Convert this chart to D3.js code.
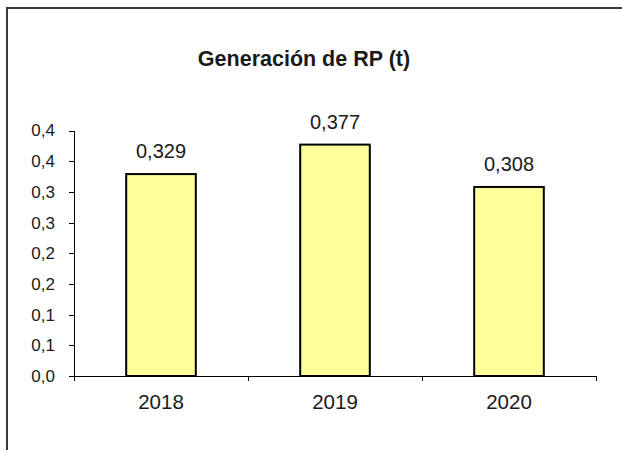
<!DOCTYPE html>
<html>
<head>
<meta charset="utf-8">
<script src="https://cdn.jsdelivr.net/npm/d3@7"></script>
<style>
	body { margin: 0; background: #fff; }
	text { font-family: "Liberation Sans", Arial, sans-serif; fill: #1a1a1a; }
	.axis path, .axis line { stroke: #000; shape-rendering: crispEdges; }
</style>
</head>
<body>
<svg></svg>
<script>
var years = ["2018", "2019", "2020"];
var values = [0.329, 0.377, 0.308];
var valueLabels = ["0,329", "0,377", "0,308"];
var yTicks = [0, 0.05, 0.1, 0.15, 0.2, 0.25, 0.3, 0.35, 0.4];
var yTickLabels = ["0,0", "0,1", "0,1", "0,2", "0,2", "0,3", "0,3", "0,4", "0,4"];
var title = "Generación de RP (t)";

var svgWidth = 622, svgHeight = 450;
var plotLeft = 74, plotRight = 596, plotTop = 130.5, plotBottom = 376;

var svg = d3.select("svg")
	.attr("width", svgWidth)
	.attr("height", svgHeight);

// chart frame (cut by the picture on the right and bottom)
svg.append("rect")
	.attr("x", 7)
	.attr("y", 8)
	.attr("width", 700)
	.attr("height", 600)
	.attr("fill", "none")
	.attr("stroke", "#3a3a3a")
	.attr("stroke-width", 2);

svg.append("text")
	.attr("x", 304)
	.attr("y", 66)
	.attr("text-anchor", "middle")
	.style("font-size", "21.5px")
	.style("font-weight", "bold")
	.text(title);

var xScale = d3.scaleBand()
	.domain(years)
	.range([plotLeft, plotRight]);

var yScale = d3.scaleLinear()
	.domain([0, 0.4])
	.range([plotBottom, plotTop]);

// y axis
var yAxis = d3.axisLeft(yScale)
	.tickValues(yTicks)
	.tickFormat(function(d, i) { return yTickLabels[i]; })
	.tickSize(5)
	.tickSizeOuter(0)
	.tickPadding(14);

svg.append("g")
	.attr("class", "axis")
	.attr("transform", "translate(" + plotLeft + ",0)")
	.call(yAxis)
	.selectAll("text")
	.style("font-size", "17px");

// x axis: labels at band centres, tick marks at band edges
var xAxis = d3.axisBottom(xScale)
	.tickSize(0)
	.tickSizeOuter(0)
	.tickPadding(18);

var gx = svg.append("g")
	.attr("class", "axis")
	.attr("transform", "translate(0," + plotBottom + ")")
	.call(xAxis);
gx.selectAll("text").style("font-size", "20.5px");

var edges = years.map(function(d) { return xScale(d); }).concat([plotRight]);
gx.selectAll("line.edge")
	.data(edges)
	.enter()
	.append("line")
	.attr("class", "edge")
	.attr("x1", function(d) { return d; })
	.attr("x2", function(d) { return d; })
	.attr("y1", 0)
	.attr("y2", 5);

// bars
var barWidth = xScale.bandwidth() * 0.4;
svg.selectAll("rect.bars")
	.data(values)
	.enter()
	.append("rect")
	.attr("class", "bars")
	.attr("x", function(d, i) { return xScale(years[i]) + (xScale.bandwidth() - barWidth) / 2; })
	.attr("y", function(d) { return yScale(d); })
	.attr("width", barWidth)
	.attr("height", function(d) { return plotBottom - yScale(d); })
	.attr("fill", "#ffff99")
	.attr("stroke", "#000")
	.attr("stroke-width", 2);

// value labels
svg.selectAll("text.labels")
	.data(values)
	.enter()
	.append("text")
	.attr("class", "labels")
	.attr("x", function(d, i) { return xScale(years[i]) + xScale.bandwidth() / 2; })
	.attr("y", function(d) { return yScale(d) - 16; })
	.attr("text-anchor", "middle")
	.style("font-size", "20px")
	.text(function(d, i) { return valueLabels[i]; });
</script>
</body>
</html>
